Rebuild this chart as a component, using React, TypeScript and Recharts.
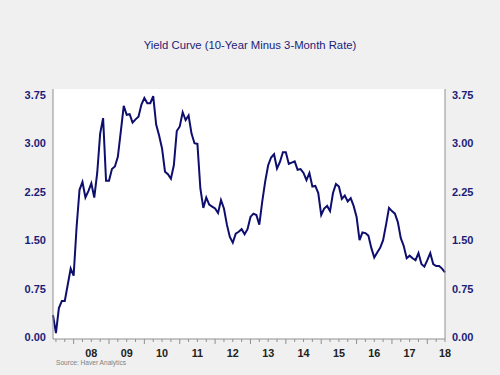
import React from 'react';
import { LineChart, Line, XAxis, YAxis, CartesianGrid } from 'recharts';

// Monthly 10-year minus 3-month spread, Jun 2007 .. Jul 2018 (percentage points)
const startYear = 2007;
const startMonth = 6; // June
const spreadValues: number[] = [
  0.34, 0.06, 0.45, 0.56, 0.56, 0.81, 1.06, 0.95, 1.70, 2.28,
  2.40, 2.16, 2.26, 2.38, 2.16, 2.54, 3.15, 3.39, 2.42, 2.42,
  2.60, 2.64, 2.79, 3.18, 3.58, 3.44, 3.45, 3.32, 3.37, 3.41,
  3.60, 3.70, 3.62, 3.62, 3.73, 3.29, 3.12, 2.92, 2.56, 2.52,
  2.45, 2.66, 3.19, 3.26, 3.48, 3.36, 3.43, 3.15, 3.00, 2.99,
  2.30, 2.00, 2.16, 2.05, 2.02, 1.99, 1.92, 2.12, 1.99, 1.74,
  1.55, 1.46, 1.60, 1.63, 1.67, 1.59, 1.67, 1.86, 1.91, 1.89,
  1.74, 2.10, 2.41, 2.66, 2.78, 2.83, 2.61, 2.71, 2.86, 2.86,
  2.68, 2.70, 2.72, 2.59, 2.60, 2.54, 2.43, 2.54, 2.33, 2.34,
  2.23, 1.89, 1.99, 2.03, 1.95, 2.23, 2.37, 2.33, 2.14, 2.19,
  2.10, 2.15, 2.03, 1.86, 1.50, 1.62, 1.61, 1.57, 1.38, 1.23,
  1.31, 1.38, 1.50, 1.74, 2.00, 1.95, 1.91, 1.78, 1.53, 1.41,
  1.22, 1.26, 1.22, 1.19, 1.30, 1.13, 1.09, 1.19, 1.30, 1.13,
  1.10, 1.10, 1.06, 1.00,
];

const yTicks: number[] = [0, 0.75, 1.5, 2.25, 3.0, 3.75];
const yearLabels: string[] = ['08', '09', '10', '11', '12', '13', '14', '15', '16', '17', '18'];

const data = spreadValues.map((v, i) => ({ n: i, v }));
const lastIndex = spreadValues.length - 1;

// month index of a given (year, month)
const idx = (y: number, m: number) => (y - startYear) * 12 + (m - startMonth);

// quarter ticks (Jan/Apr/Jul/Oct)
const xTicks: number[] = [];
for (let i = 0; i <= lastIndex; i++) {
  const m = ((startMonth - 1 + i) % 12) + 1;
  if (m === 1 || m === 4 || m === 7 || m === 10) xTicks.push(i);
}
const labelAt: Record<number, string> = {};
yearLabels.forEach((lab) => {
  labelAt[idx(2000 + parseInt(lab, 10), 7)] = lab;
});

const NAVY = '#1c1c78';

const XTick = (props: any) => {
  const { x, y, payload } = props;
  const i = payload.value as number;
  const m = ((startMonth - 1 + i) % 12) + 1;
  const len = m === 1 ? 5 : 3;
  const lab = labelAt[i];
  return (
    <g>
      <line x1={x} y1={y} x2={x} y2={y + len} stroke="#909090" strokeWidth={1} />
      {lab ? (
        <text x={x} y={y + 14.5} dy="0.355em" textAnchor="middle" fill="#222" fontSize={10.8} fontWeight="bold" fontFamily="'Liberation Sans', Arial, sans-serif">
          {lab}
        </text>
      ) : null}
    </g>
  );
};

const YTick = (props: any) => {
  const { x, y, payload, textAnchor } = props;
  return (
    <text x={x} y={y} dy="0.355em" textAnchor={textAnchor} fill={NAVY} fontSize={11} fontWeight="bold" fontFamily="'Liberation Sans', Arial, sans-serif">
      {(payload.value as number).toFixed(2)}
    </text>
  );
};

export default function App() {
  return (
    <div style={{ position: 'absolute', left: 0, top: 0, width: 500, height: 375, background: '#f0f0f0', overflow: 'hidden' }}>
      <div style={{ position: 'absolute', left: 0, top: 37, width: 500, textAlign: 'center', fontFamily: "'Liberation Sans', Arial, sans-serif", fontSize: 11.3, color: NAVY, lineHeight: '16px' }}>
        Yield Curve (10-Year Minus 3-Month Rate)
      </div>
      <LineChart width={500} height={375} data={data} margin={{ top: 89, right: 0, bottom: 0, left: 0 }}>
        <CartesianGrid horizontal={false} vertical={false} fill="#ffffff" stroke="none" />
        <XAxis
          dataKey="n"
          type="number"
          domain={[0, lastIndex]}
          ticks={xTicks}
          interval={0}
          height={36}
          tickSize={0}
          tickMargin={0}
          tickLine={false}
          axisLine={{ stroke: '#909090' }}
          tick={<XTick />}
        />
        <YAxis
          yAxisId="left"
          orientation="left"
          width={53}
          domain={[-0.03, 3.84]}
          allowDataOverflow
          ticks={yTicks}
          interval={0}
          tickSize={0}
          tickMargin={7}
          tickLine={false}
          axisLine={{ stroke: '#909090' }}
          tick={<YTick />}
        />
        <YAxis
          yAxisId="right"
          orientation="right"
          width={55}
          domain={[-0.03, 3.84]}
          allowDataOverflow
          ticks={yTicks}
          interval={0}
          tickSize={0}
          tickMargin={7}
          tickLine={false}
          axisLine={{ stroke: '#909090' }}
          tick={<YTick />}
        />
        <Line
          yAxisId="left"
          type="linear"
          dataKey="v"
          stroke="#0e0e6e"
          strokeWidth={2}
          dot={false}
          isAnimationActive={false}
        />
      </LineChart>
      <div style={{ position: 'absolute', left: 56, top: 360, fontFamily: "'Liberation Sans', Arial, sans-serif", fontSize: 6.6, color: '#808080', lineHeight: '6.6px' }}>
        Source: Haver Analytics
      </div>
    </div>
  );
}
